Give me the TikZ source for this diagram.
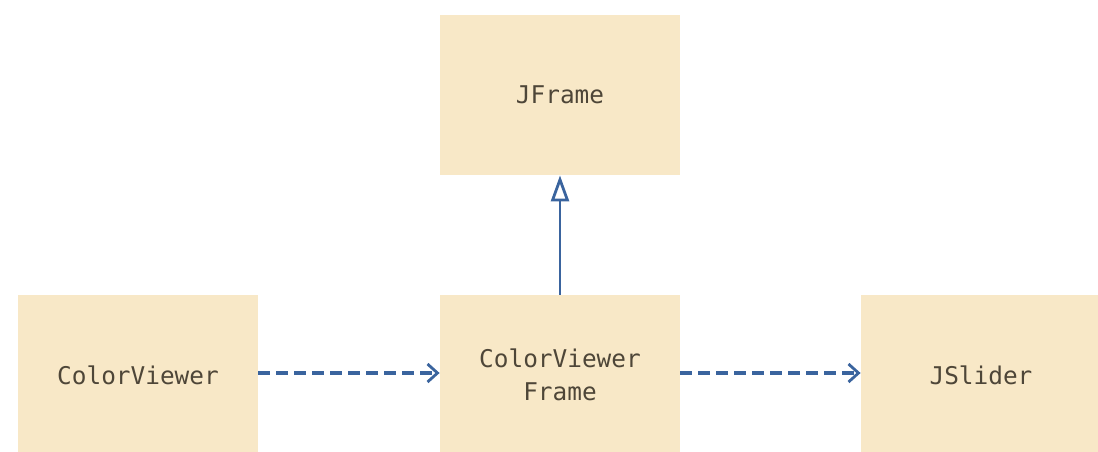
\documentclass[tikz,border=0pt]{standalone}
\usepackage{fontspec}
\setmonofont{DejaVu Sans Mono}
\usetikzlibrary{arrows.meta, positioning}
\definecolor{umlFill}{RGB}{248, 232, 199}
\definecolor{umlText}{RGB}{78, 70, 56}
\definecolor{umlBlue}{RGB}{58, 100, 158}
\tikzset{
    classBox/.style={fill=umlFill, text=umlText, minimum width=120pt, minimum height=80pt,
        inner sep=0pt, align=center, font=\fontsize{12.2}{16.5}\selectfont\ttfamily},
    inherits/.style={line width=1.4pt, umlBlue, -{Triangle[open, length=13pt, width=9pt]}},
    dependsOn/.style={line width=1.7pt, umlBlue, dash pattern=on 6pt off 3pt,
        -{Straight Barb[length=5pt, width=9pt, line width=1.4pt]}},
}
\begin{document}
\begin{tikzpicture}[x=0.5pt, y=-0.5pt]
    \useasboundingbox (0,0) rectangle (1098,451);

    % SUPERCLASS
    \node[classBox] (JFrame) at (560,95) {JFrame};

    % BOTTOM ROW
    \node[classBox] (Viewer) at (138,375) {ColorViewer};
    \node[classBox] (ViewerFrame) at (560,375) {ColorViewer\\Frame};
    \node[classBox] (Slider) at (981,375) {JSlider};

    % RELATIONS
    \draw[inherits] (ViewerFrame) -- (JFrame);
    \draw[dependsOn] ([yshift=1pt]Viewer.east) -- ([yshift=1pt]ViewerFrame.west);
    \draw[dependsOn] ([yshift=1pt]ViewerFrame.east) -- ([yshift=1pt]Slider.west);

\end{tikzpicture}
\end{document}
